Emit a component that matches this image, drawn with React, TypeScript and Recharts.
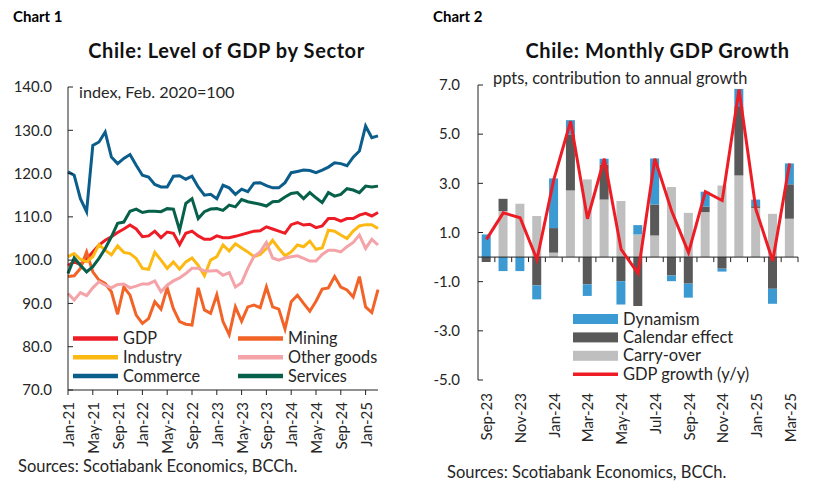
import React from 'react';
import { LineChart, Line, XAxis, YAxis, ComposedChart, Bar, ReferenceLine } from 'recharts';

const FONT = 'Lato, "DejaVu Sans", sans-serif';
const TXT = '#262626';

// ---------- Chart 1 data ----------
const MONTH_NAMES = ['Jan', 'Feb', 'Mar', 'Apr', 'May', 'Jun', 'Jul', 'Aug', 'Sep', 'Oct', 'Nov', 'Dec'];
const months1: string[] = Array.from({ length: 51 }, (_, i) => `${MONTH_NAMES[i % 12]}-${21 + Math.floor(i / 12)}`);

const gdp = [98.8, 99.6, 99.0, 100.2, 101.9, 103.5, 104.6, 105.4, 106.4, 107.2, 108.1, 107.2, 105.4, 105.6, 106.7, 105.2, 106.5, 106.2, 103.6, 106.2, 106.7, 105.6, 104.8, 104.8, 105.6, 105.2, 105.2, 105.5, 105.9, 106.3, 106.7, 106.8, 107.7, 107.2, 106.7, 106.2, 108.2, 108.7, 108.1, 108.3, 107.5, 107.9, 109.6, 109.6, 109.0, 109.6, 109.6, 110.4, 110.8, 110.2, 111.0];
const mining = [96.2, 96.4, 98.1, 101.9, 97.3, 95.4, 94.6, 92.7, 87.5, 93.8, 91.9, 87.3, 85.4, 86.5, 90.4, 88.7, 93.6, 88.8, 85.8, 85.2, 85.0, 93.6, 88.5, 87.7, 92.0, 85.8, 82.8, 89.2, 85.9, 89.2, 89.6, 89.0, 93.8, 89.2, 88.7, 84.1, 90.4, 91.9, 90.0, 88.2, 90.5, 93.3, 93.6, 96.2, 93.8, 93.1, 91.5, 96.2, 89.2, 87.9, 93.2];
const industry = [100.8, 101.5, 100.2, 99.6, 100.8, 103.6, 102.3, 101.2, 103.3, 101.8, 101.5, 100.4, 98.1, 97.9, 101.8, 100.0, 98.1, 99.6, 97.9, 99.6, 100.5, 98.8, 96.4, 100.0, 100.8, 103.5, 102.1, 103.8, 102.8, 101.9, 100.8, 101.3, 102.7, 104.6, 102.7, 101.0, 101.9, 103.5, 103.1, 104.4, 102.5, 102.8, 106.9, 106.7, 105.8, 105.0, 106.7, 107.9, 108.2, 108.2, 107.3];
const otherGoods = [92.3, 90.8, 92.5, 91.8, 93.6, 95.0, 94.2, 93.6, 94.4, 94.5, 93.6, 94.0, 94.5, 94.5, 95.2, 92.7, 94.2, 95.2, 95.9, 96.9, 98.1, 98.1, 97.5, 97.5, 97.6, 96.5, 97.1, 93.8, 94.8, 98.1, 100.9, 101.9, 104.1, 100.5, 100.0, 100.5, 100.8, 101.0, 100.4, 99.8, 99.8, 101.3, 102.3, 102.3, 101.9, 103.1, 104.1, 105.8, 102.7, 104.8, 103.5];
const commerce = [120.4, 119.6, 114.2, 111.2, 126.5, 127.3, 129.6, 123.8, 122.3, 123.5, 124.4, 121.9, 119.6, 119.2, 117.5, 116.9, 116.9, 119.4, 119.5, 118.7, 119.4, 116.9, 115.0, 115.2, 114.2, 117.3, 116.7, 115.2, 116.4, 115.8, 117.8, 117.9, 117.2, 116.7, 116.7, 117.9, 120.2, 120.5, 120.8, 120.7, 120.2, 120.8, 121.5, 122.5, 122.3, 121.8, 123.8, 125.2, 131.0, 128.3, 128.7];
const services = [96.9, 100.5, 98.8, 97.3, 98.5, 100.4, 102.7, 105.4, 108.5, 108.8, 111.3, 111.8, 111.0, 111.3, 111.3, 111.2, 111.9, 111.8, 106.9, 113.1, 114.2, 109.6, 111.2, 111.8, 111.9, 111.5, 112.7, 112.3, 114.0, 113.5, 113.2, 112.9, 112.5, 113.5, 113.6, 114.6, 115.4, 115.6, 114.2, 115.6, 114.4, 113.3, 115.6, 114.8, 115.2, 116.5, 116.2, 115.6, 117.1, 116.9, 117.1];
const yTicks1 = [70, 80, 90, 100, 110, 120, 130, 140];

// ---------- Chart 2 data ----------
const months2 = ['Sep-23', 'Oct-23', 'Nov-23', 'Dec-23', 'Jan-24', 'Feb-24', 'Mar-24', 'Apr-24', 'May-24', 'Jun-24', 'Jul-24', 'Aug-24', 'Sep-24', 'Oct-24', 'Nov-24', 'Dec-24', 'Jan-25', 'Feb-25', 'Mar-25'];
const carryOver = [0, 1.87, 2.17, 1.67, 0.18, 2.71, 3.16, 2.34, 2.28, 0.92, 0.88, 2.85, 1.8, 1.83, 2.91, 3.32, 2.0, 1.76, 1.56];
const calendarEffect = [-0.2, 0.5, 0, -1.15, 1.0, 2.28, -1.11, 1.42, -0.98, -1.99, 1.26, -0.75, -1.08, 0.22, -0.47, 2.82, 0.07, -1.29, 1.4];
const dynamism = [0.92, -0.57, -0.57, -0.57, 2.02, 0.58, -0.47, 0.24, -0.95, 0.38, 1.87, -0.23, -0.57, 0.61, -0.12, 0.7, 0.27, -0.61, 0.85];
const gdpGrowth = [0.72, 1.8, 1.6, -0.1, 3.15, 5.53, 1.56, 4.0, 0.31, -0.66, 4.0, 1.87, 0.18, 2.66, 2.3, 6.82, 1.94, -0.16, 3.81];
const yTicks2 = [-5, -3, -1, 1, 3, 5, 7];

const rows1 = months1.map((m, i) => ({
  month: m,
  gdp: gdp[i],
  mining: mining[i],
  industry: industry[i],
  otherGoods: otherGoods[i],
  commerce: commerce[i],
  services: services[i],
}));

const rows2 = months2.map((m, i) => ({
  month: m,
  carry: carryOver[i],
  calendar: calendarEffect[i],
  dynamism: dynamism[i],
  gdp: gdpGrowth[i],
}));

const C = {
  gdp: '#ee1c25',
  mining: '#f26328',
  industry: '#fdb913',
  otherGoods: '#f4a3a8',
  commerce: '#0b5e8c',
  services: '#07604a',
  dyn: '#3c9ad3',
  cal: '#595959',
  carry: '#bfbfbf',
};

const RotTick = (props: any) => {
  const { x, y, payload } = props;
  return (
    <text
      x={x}
      y={y}
      transform={`rotate(-90 ${x} ${y})`}
      textAnchor="end"
      dominantBaseline="central"
      fontSize={15}
      fontFamily={FONT}
      fill={TXT}
    >
      {payload.value}
    </text>
  );
};

const ZeroAxis = (props: any) => {
  const { x1, y1, x2 } = props;
  const n = months2.length;
  const w = (x2 - x1) / n;
  const ticks = [];
  for (let j = 1; j <= n; j++) {
    const tx = x1 + w * j;
    ticks.push(<line key={j} x1={tx} x2={tx} y1={y1} y2={y1 + 5} stroke="#222" strokeWidth={1} />);
  }
  return (
    <g>
      <line x1={x1} x2={x2} y1={y1} y2={y1} stroke="#222" strokeWidth={1} />
      {ticks}
    </g>
  );
};

const legend1 = [
  { label: 'GDP', color: C.gdp, col: 0, row: 0 },
  { label: 'Mining', color: C.mining, col: 1, row: 0 },
  { label: 'Industry', color: C.industry, col: 0, row: 1 },
  { label: 'Other goods', color: C.otherGoods, col: 1, row: 1 },
  { label: 'Commerce', color: C.commerce, col: 0, row: 2 },
  { label: 'Services', color: C.services, col: 1, row: 2 },
];

const legend2 = [
  { label: 'Dynamism', color: C.dyn, type: 'rect' },
  { label: 'Calendar effect', color: C.cal, type: 'rect' },
  { label: 'Carry-over', color: C.carry, type: 'rect' },
  { label: 'GDP growth (y/y)', color: C.gdp, type: 'line' },
];

export default function App() {
  const tickStyle = { fontSize: 15, fontFamily: FONT, fill: TXT };
  return (
    <div style={{ position: 'absolute', left: 0, top: 0, width: 828, height: 483, background: '#fff', fontFamily: FONT }}>
      <div style={{ position: 'absolute', left: 0, top: 0 }}>
        <LineChart width={400} height={483} data={rows1} margin={{ top: 87, right: 22, left: 8, bottom: 33 }}>
          <XAxis
            dataKey="month"
            scale="point"
            interval={3}
            height={60}
            tickSize={5}
            tickMargin={7}
            axisLine={{ stroke: '#222' }}
            tickLine={{ stroke: '#222' }}
            tick={RotTick}
          />
          <YAxis
            domain={[70, 140]}
            ticks={yTicks1}
            width={60}
            tickSize={-5}
            tickMargin={21}
            axisLine={{ stroke: '#222' }}
            tickLine={{ stroke: '#222' }}
            tick={tickStyle}
            tickFormatter={(v: number) => v.toFixed(1)}
          />
          <Line dataKey="gdp" stroke={C.gdp} strokeWidth={3} dot={false} isAnimationActive={false} />
          <Line dataKey="mining" stroke={C.mining} strokeWidth={3} dot={false} isAnimationActive={false} />
          <Line dataKey="industry" stroke={C.industry} strokeWidth={3} dot={false} isAnimationActive={false} />
          <Line dataKey="otherGoods" stroke={C.otherGoods} strokeWidth={3} dot={false} isAnimationActive={false} />
          <Line dataKey="commerce" stroke={C.commerce} strokeWidth={3} dot={false} isAnimationActive={false} />
          <Line dataKey="services" stroke={C.services} strokeWidth={3} dot={false} isAnimationActive={false} />
        </LineChart>
      </div>
      <div style={{ position: 'absolute', left: 400, top: 0 }}>
        <ComposedChart
          width={428}
          height={483}
          data={rows2}
          margin={{ top: 85, right: 30, left: 18, bottom: 43 }}
          stackOffset="sign"
          barCategoryGap="22%"
        >
          <XAxis
            dataKey="month"
            interval={1}
            height={60}
            axisLine={false}
            tickLine={false}
            tickSize={0}
            tickMargin={13}
            tick={RotTick}
          />
          <YAxis
            domain={[-5, 7]}
            ticks={yTicks2}
            width={60}
            tickSize={-5}
            tickMargin={23}
            axisLine={{ stroke: '#222' }}
            tickLine={{ stroke: '#222' }}
            tick={tickStyle}
            tickFormatter={(v: number) => v.toFixed(1)}
          />
          <Bar dataKey="carry" stackId="a" fill={C.carry} isAnimationActive={false} />
          <Bar dataKey="calendar" stackId="a" fill={C.cal} isAnimationActive={false} />
          <Bar dataKey="dynamism" stackId="a" fill={C.dyn} isAnimationActive={false} />
          <ReferenceLine y={0} shape={ZeroAxis} ifOverflow="visible" />
          <Line dataKey="gdp" stroke={C.gdp} strokeWidth={3} dot={false} isAnimationActive={false} />
        </ComposedChart>
      </div>
      <svg width={828} height={483} style={{ position: 'absolute', left: 0, top: 0, pointerEvents: 'none' }} fontFamily={FONT}>
        <text x={13} y={21.5} fontSize={15} fontWeight={700} fill="#000">Chart 1</text>
        <text x={433} y={21.5} fontSize={15} fontWeight={700} fill="#000">Chart 2</text>
        <text x={226.5} y={58} fontSize={20} letterSpacing={0.6} fontWeight={700} fill="#111" textAnchor="middle">Chile: Level of GDP by Sector</text>
        <text x={657.5} y={58} fontSize={20} letterSpacing={0.6} fontWeight={700} fill="#111" textAnchor="middle">Chile: Monthly GDP Growth</text>
        <text x={79} y={97.5} fontSize={16.2} fill={TXT}>index, Feb. 2020=100</text>
        <text x={493} y={84} fontSize={16.4} fill={TXT}>ppts, contribution to annual growth</text>
        {legend1.map((l) => {
          const cy = 338.5 + l.row * 18.8;
          const x0 = l.col === 0 ? 73 : 238;
          return (
            <g key={l.label}>
              <line x1={x0} x2={x0 + 45} y1={cy} y2={cy} stroke={l.color} strokeWidth={4.5} />
              <text x={x0 + 50} y={cy + 5.5} fontSize={16.3} fill={TXT}>{l.label}</text>
            </g>
          );
        })}
        {legend2.map((l, i) => {
          const cy = 319 + i * 18.4;
          return (
            <g key={l.label}>
              {l.type === 'rect' ? (
                <rect x={573} y={cy - 5} width={45} height={10} fill={l.color} />
              ) : (
                <line x1={573} x2={618} y1={cy} y2={cy} stroke={l.color} strokeWidth={3.5} />
              )}
              <text x={623} y={cy + 5.5} fontSize={16.5} fill={TXT}>{l.label}</text>
            </g>
          );
        })}
        <text x={18} y={471.5} fontSize={16.5} fill={TXT}>Sources: Scotiabank Economics, BCCh.</text>
        <text x={447} y={478} fontSize={16.5} fill={TXT}>Sources: Scotiabank Economics, BCCh.</text>
      </svg>
    </div>
  );
}
